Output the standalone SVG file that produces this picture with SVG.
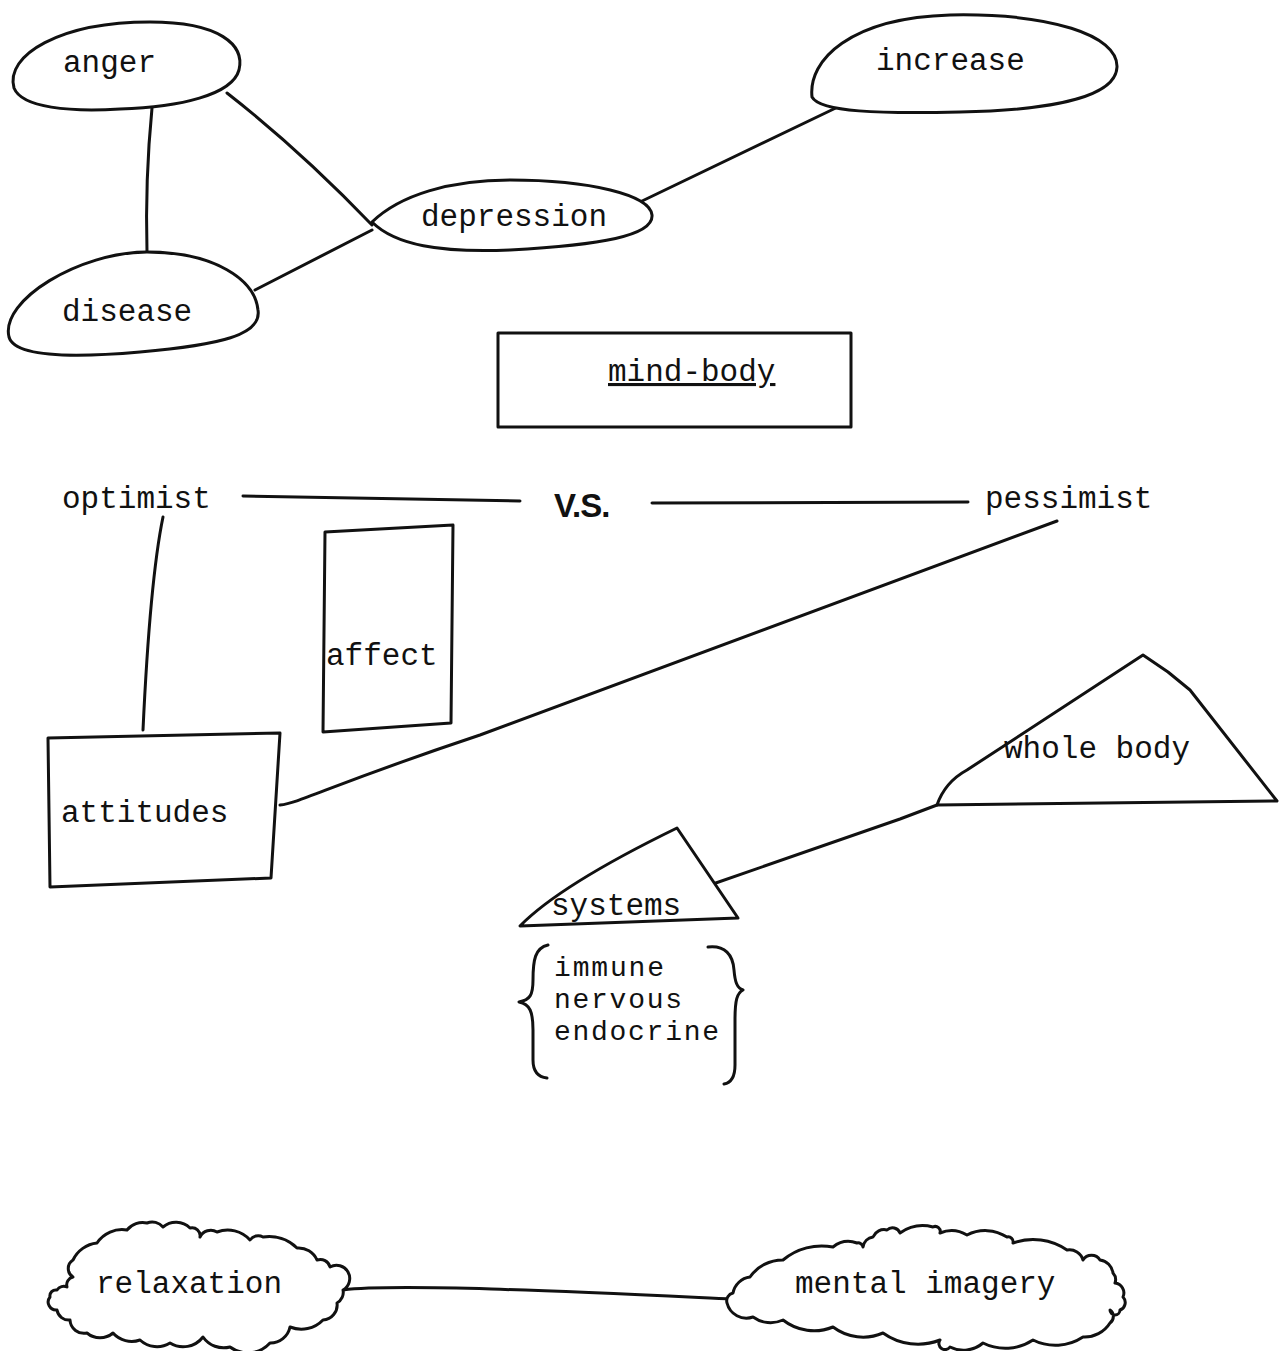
<svg xmlns="http://www.w3.org/2000/svg" width="1280" height="1351" viewBox="0 0 1280 1351">
<style>
  .s { fill: none; stroke: #111; stroke-width: 3; stroke-linejoin: round; stroke-linecap: round; }
  .n { fill: #fff; stroke: #111; stroke-width: 3; stroke-linejoin: round; stroke-linecap: round; }
  .t { font-family: "Liberation Mono", "Courier New", monospace; font-size: 31px; fill: #111; }
  .l { font-family: "Liberation Mono", "Courier New", monospace; font-size: 28px; fill: #111; }
</style>
<rect width="1280" height="1351" fill="#fff"/>
<g id="connectors">
  <path class="s" d="M 152 108 Q 145 180 147 252"/>
  <path class="s" d="M 227 93 Q 300 150 372 225"/>
  <path class="s" d="M 255 290 L 372 230"/>
  <path class="s" d="M 640 202 L 842 105"/>
  <path class="s" d="M 243 496 L 520 501"/>
  <path class="s" d="M 652 503 L 968 502"/>
  <path class="s" d="M 163 517 Q 150 580 143 730"/>
  <path class="s" d="M 280 805 C 300 803 330 785 480 735 L 1057 521"/>
  <path class="s" d="M 710 885 L 900 819 L 937 805"/>
  <path class="s" d="M 343 1290 C 400 1283 600 1293 733 1299"/>
</g>
<g id="anger">
  <path class="n" d="M 14 88 C 5 55 60 22 150 22 C 220 22 245 45 239 70 C 232 95 180 107 120 109 C 70 112 22 108 14 88 Z"/>
  <text class="t" x="63" y="72">anger</text>
</g>
<g id="disease">
  <path class="n" d="M 9 337 C 0 300 80 252 147 252 C 215 252 255 280 258 310 C 262 335 220 345 140 352 C 60 359 14 355 9 337 Z"/>
  <text class="t" x="62" y="321">disease</text>
</g>
<g id="depression">
  <path class="n" d="M 372 222 C 400 195 450 180 510 180 C 590 180 650 195 652 215 C 654 236 600 245 510 250 C 440 253 395 245 372 222 Z"/>
  <text class="t" x="421" y="226">depression</text>
</g>
<g id="increase">
  <path class="n" d="M 812 97 C 808 60 850 18 950 15 C 1050 13 1118 35 1117 67 C 1116 95 1060 110 960 112 C 880 114 820 112 812 97 Z"/>
  <text class="t" x="876" y="70">increase</text>
</g>
<g id="mind-body">
  <rect class="n" x="498" y="333" width="353" height="94"/>
  <text class="t" x="608" y="381" text-decoration="underline">mind-body</text>
</g>
<g id="optimist">
  <text class="t" x="62" y="508">optimist</text>
</g>
<g id="vs">
  <text x="554" y="517" font-family="Liberation Sans, Arial, sans-serif" font-size="33" font-weight="bold" fill="#111" letter-spacing="-1">V.S.</text>
</g>
<g id="pessimist">
  <text class="t" x="985" y="508">pessimist</text>
</g>
<g id="affect">
  <path class="n" d="M 325 532 L 453 525 L 451 723 L 323 732 Z"/>
  <text class="t" x="326" y="665">affect</text>
</g>
<g id="attitudes">
  <path class="n" d="M 48 738 L 280 733 L 271 878 L 50 887 Z"/>
  <text class="t" x="61" y="822">attitudes</text>
</g>
<g id="whole-body">
  <path class="n" d="M 937 805 Q 945 782 967 770 L 1143 655 L 1168 672 L 1190 690 L 1277 801 Z"/>
  <text class="t" x="1004" y="758">whole body</text>
</g>
<g id="systems">
  <path class="n" d="M 520 926 Q 560 885 677 828 L 738 918 Z"/>
  <text class="t" x="551" y="915">systems</text>
</g>
<g id="system-list">
  <path class="s" d="M 548 945 C 535 948 533 960 533 980 C 533 995 530 1000 519 1002 C 530 1004 533 1012 533 1030 L 533 1060 C 533 1072 538 1077 547 1078"/>
  <path class="s" d="M 708 947 C 725 945 733 955 734 970 C 735 982 737 988 743 990 C 737 993 735 1000 735 1020 L 735 1065 C 735 1078 730 1083 724 1084"/>
  <text class="l" x="554" y="976" textLength="110" lengthAdjust="spacing">immune</text>
  <text class="l" x="554" y="1008" textLength="128" lengthAdjust="spacing">nervous</text>
  <text class="l" x="554" y="1040" textLength="165" lengthAdjust="spacing">endocrine</text>
</g>
<g id="relaxation">
  <path class="n" d="M 73 1260 A 30 30 0 0 1 97 1243 A 30 30 0 0 1 127 1230 A 20 20 0 0 1 147 1223 A 14 14 0 0 1 163 1227 A 20 20 0 0 1 190 1228 A 8 8 0 0 1 200 1237 A 12 12 0 0 1 217 1232 A 30 30 0 0 1 250 1240 A 10 10 0 0 1 263 1237 A 40 40 0 0 1 297 1248 A 20 20 0 0 1 317 1260 A 10 10 0 0 1 330 1267 A 12 12 0 0 1 343 1290 A 12 12 0 0 1 337 1303 A 15 15 0 0 1 323 1320 A 30 30 0 0 1 290 1327 A 20 20 0 0 1 270 1343 A 30 30 0 0 1 230 1347 A 25 25 0 0 1 203 1337 A 25 25 0 0 1 170 1343 A 25 25 0 0 1 140 1340 A 25 25 0 0 1 113 1333 A 20 20 0 0 1 87 1333 A 14 14 0 0 1 70 1320 A 12 12 0 0 1 57 1310 A 8 8 0 0 1 50 1297 A 6 6 0 0 1 57 1290 A 8 8 0 0 1 67 1287 A 8 8 0 0 1 73 1277 A 10 10 0 0 1 73 1260 Z"/>
  <text class="t" x="96" y="1293">relaxation</text>
</g>
<g id="mental-imagery">
  <path class="n" d="M 733 1293 A 20 20 0 0 1 750 1277 A 40 40 0 0 1 783 1260 A 60 60 0 0 1 833 1247 A 25 25 0 0 1 857 1243 A 5 5 0 0 1 863 1247 A 12 12 0 0 1 873 1237 A 12 12 0 0 1 887 1230 A 8 8 0 0 1 900 1233 A 40 40 0 0 1 933 1227 A 5 5 0 0 1 940 1233 A 30 30 0 0 1 967 1235 A 40 40 0 0 1 1007 1237 A 5 5 0 0 1 1013 1243 A 60 60 0 0 1 1067 1250 A 14 14 0 0 1 1083 1260 A 10 10 0 0 1 1100 1260 A 15 15 0 0 1 1113 1273 A 10 10 0 0 1 1115 1283 A 10 10 0 0 1 1123 1297 A 8 8 0 0 1 1120 1310 A 5 5 0 0 1 1110 1310 A 8 8 0 0 1 1110 1323 A 30 30 0 0 1 1083 1337 A 50 50 0 0 1 1033 1340 A 50 50 0 0 1 983 1343 A 30 30 0 0 1 950 1347 A 6 6 0 0 1 940 1340 A 60 60 0 0 1 883 1333 A 50 50 0 0 1 833 1327 A 50 50 0 0 1 783 1320 A 30 30 0 0 1 753 1317 A 20 20 0 0 1 727 1303 A 8 8 0 0 1 733 1293 Z"/>
  <text class="t" x="795" y="1293">mental imagery</text>
</g>
</svg>
